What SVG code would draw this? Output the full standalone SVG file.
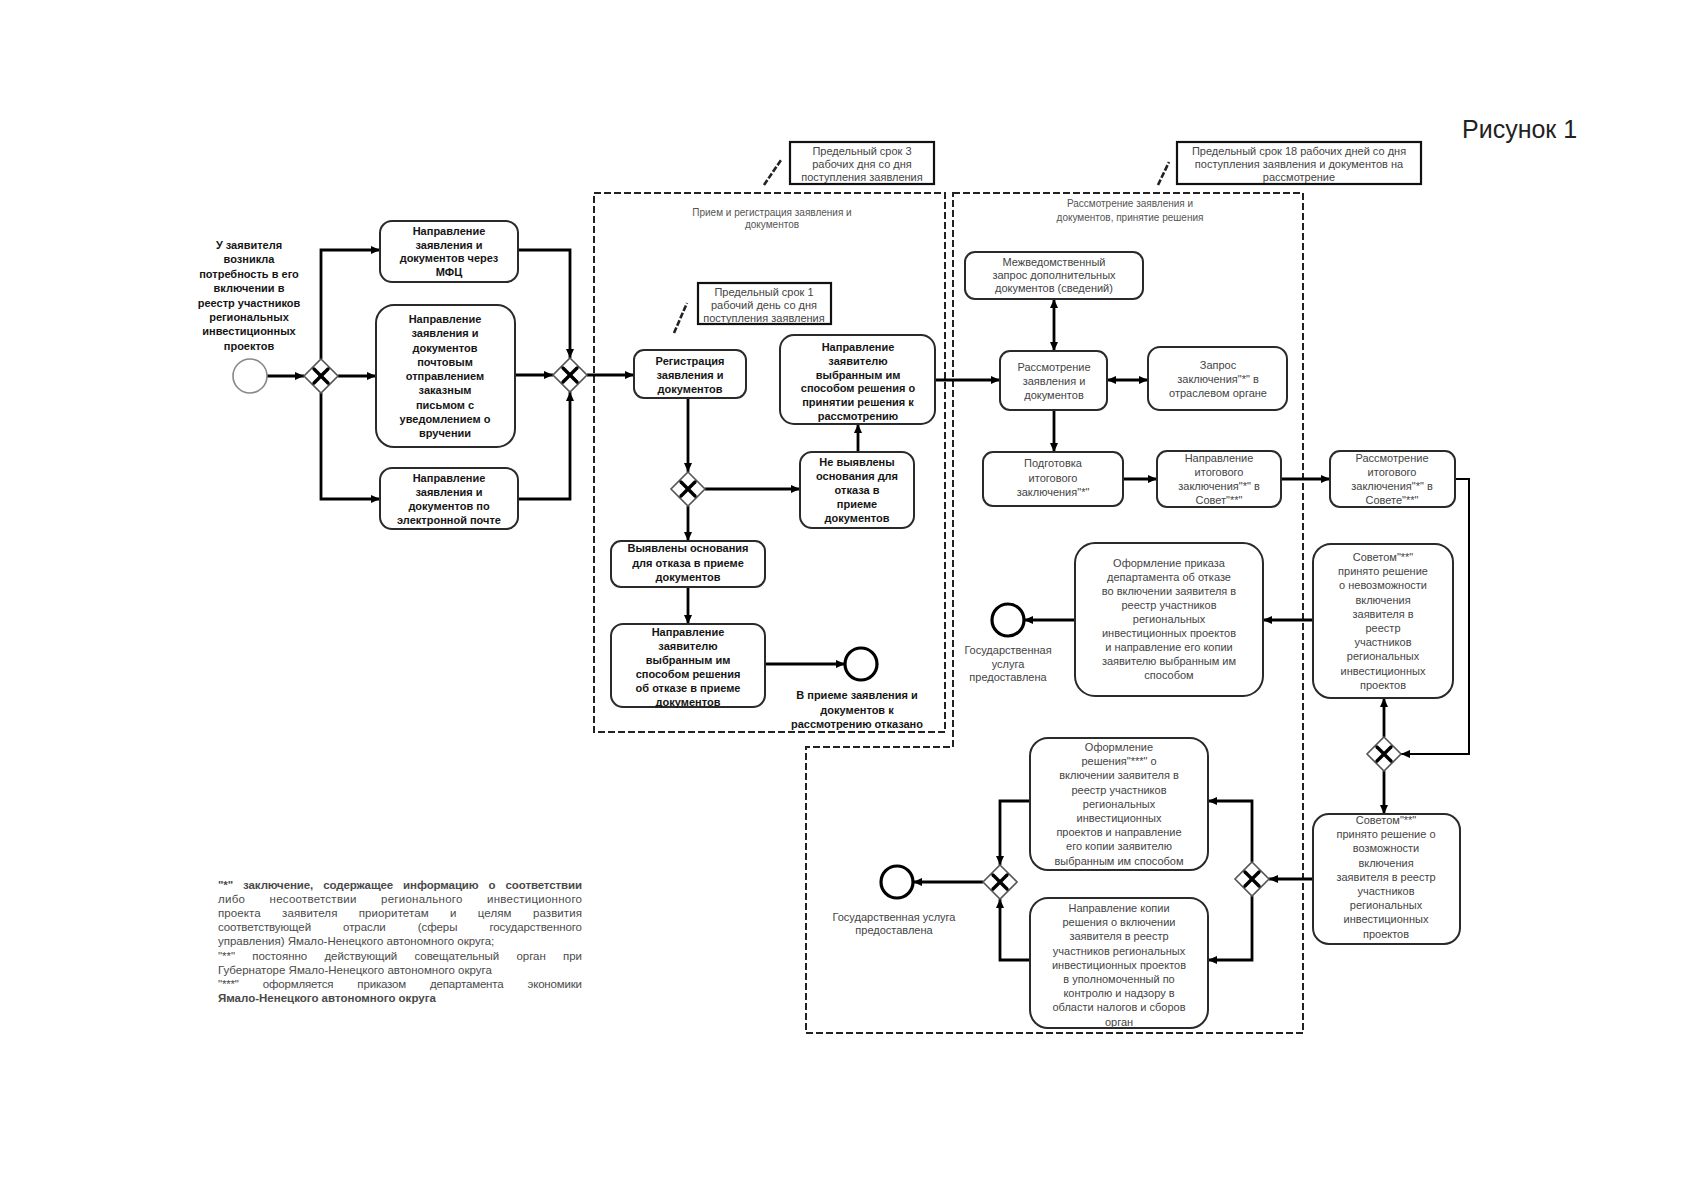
<svg xmlns="http://www.w3.org/2000/svg" xmlns:xlink="http://www.w3.org/1999/xlink" width="1696" height="1200" viewBox="0 0 1696 1200">
<style>
  text { font-family: "Liberation Sans", Arial, sans-serif; font-size: 11px; fill: #444; text-anchor: middle; }
  .b { font-weight: bold; fill: #151515; }
  .lt { font-size: 10px; fill: #555; }
  .fn { font-size: 11.5px; text-anchor: start; fill: #4a4a4a; }
  .fig { font-size: 25px; fill: #222; text-anchor: start; }
  .box { fill: #fff; stroke: #2a2a2a; stroke-width: 2; }
  .ann { fill: #fff; stroke: #111; stroke-width: 2.2; }
  .lane { fill: none; stroke: #222; stroke-width: 2; stroke-dasharray: 7 3; }
  .assoc { stroke: #222; stroke-width: 2.6; stroke-dasharray: 6 2; fill: none; }
  .flow { fill: none; stroke: #000; stroke-width: 2.8; marker-end: url(#arr); }
  .both { marker-start: url(#arrs); }
  .start { fill: #fff; stroke: #888; stroke-width: 1.6; }
  .end { fill: #fff; stroke: #000; stroke-width: 3.2; }
  .gwd { fill: #fff; stroke: #555; stroke-width: 1.6; }
  .gwx { stroke: #000; stroke-width: 3.4; stroke-linecap: round; }
</style>
<defs>
  <marker id="arr" markerUnits="userSpaceOnUse" markerWidth="10" markerHeight="10" refX="9" refY="4" orient="auto">
    <path d="M0,0 L9,4 L0,8 z" fill="#000"/>
  </marker>
  <marker id="arrs" markerUnits="userSpaceOnUse" markerWidth="10" markerHeight="10" refX="9" refY="4" orient="auto-start-reverse">
    <path d="M0,0 L9,4 L0,8 z" fill="#000"/>
  </marker>
  <g id="gw">
    <polygon class="gwd" points="0,-17 17,0 0,17 -17,0"/>
    <line class="gwx" x1="-7" y1="-7" x2="7" y2="7"/>
    <line class="gwx" x1="-7" y1="7" x2="7" y2="-7"/>
  </g>
</defs>
<rect width="1696" height="1200" fill="#fff"/>

<text class="fig" x="1462" y="138">Рисунок 1</text>

<!-- Lanes -->
<g id="lane1">
  <rect class="lane" x="594" y="193" width="351" height="539"/>
  <text class="lt" x="772"><tspan x="772" y="216">Прием и регистрация заявления и</tspan><tspan x="772" y="228">документов</tspan></text>
</g>
<g id="lane2">
  <path class="lane" d="M953,193 H1303 V1033 H806 V747 H953 Z"/>
  <text class="lt" x="1130"><tspan x="1130" y="207">Рассмотрение заявления и</tspan><tspan x="1130" y="221">документов, принятие решения</tspan></text>
</g>

<!-- Annotations -->
<g id="ann1">
  <rect class="ann" x="790" y="142" width="144" height="42"/>
  <line class="assoc" x1="764" y1="185" x2="781" y2="160"/>
  <text><tspan x="862" y="155">Предельный срок 3</tspan><tspan x="862" y="168">рабочих дня со дня</tspan><tspan x="862" y="181">поступления заявления</tspan></text>
</g>
<g id="ann2">
  <rect class="ann" x="698" y="283" width="133" height="41"/>
  <line class="assoc" x1="674" y1="333" x2="687" y2="303"/>
  <text><tspan x="764" y="296">Предельный срок 1</tspan><tspan x="764" y="309">рабочий день со дня</tspan><tspan x="764" y="322">поступления заявления</tspan></text>
</g>
<g id="ann3">
  <rect class="ann" x="1177" y="142" width="244" height="42"/>
  <line class="assoc" x1="1158" y1="185" x2="1169" y2="162"/>
  <text><tspan x="1299" y="155">Предельный срок 18 рабочих дней со дня</tspan><tspan x="1299" y="168">поступления заявления и документов на</tspan><tspan x="1299" y="181">рассмотрение</tspan></text>
</g>

<!-- Connectors -->
<g id="connectors">
  <path class="flow" d="M267,376 H304"/>
  <path class="flow" d="M321,359 V250 H380"/>
  <path class="flow" d="M338,376 H376"/>
  <path class="flow" d="M321,393 V499 H380"/>
  <path class="flow" d="M518,250 H570 V358"/>
  <path class="flow" d="M515,375 H553"/>
  <path class="flow" d="M518,499 H570 V392"/>
  <path class="flow" d="M587,375 H634"/>
  <path class="flow" d="M688,398 V472"/>
  <path class="flow" d="M705,489 H800"/>
  <path class="flow" d="M858,452 V424"/>
  <path class="flow" d="M688,506 V541"/>
  <path class="flow" d="M688,587 V624"/>
  <path class="flow" d="M765,664 H845"/>
  <path class="flow" d="M935,380 H1000"/>
  <path class="flow both" d="M1054,351 V299"/>
  <path class="flow both" d="M1107,380 H1148"/>
  <path class="flow" d="M1054,410 V452"/>
  <path class="flow" d="M1123,479 H1157"/>
  <path class="flow" d="M1281,479 H1330"/>
  <path class="flow" style="stroke-width:2" d="M1455,479 H1469 V754 H1401"/>
  <path class="flow" d="M1384,737 V698"/>
  <path class="flow" d="M1384,771 V814"/>
  <path class="flow" d="M1313,620 H1263"/>
  <path class="flow" d="M1075,620 H1024"/>
  <path class="flow" d="M1313,879 H1269"/>
  <path class="flow" d="M1252,862 V801 H1208"/>
  <path class="flow" d="M1252,896 V960 H1208"/>
  <path class="flow" d="M1030,801 H1000 V865"/>
  <path class="flow" d="M1030,960 H1000 V899"/>
  <path class="flow" d="M983,882 H913"/>
</g>

<!-- Start -->
<g id="start">
  <text class="b"><tspan x="249" y="249">У заявителя</tspan><tspan x="249" y="263.4">возникла</tspan><tspan x="249" y="277.8">потребность в его</tspan><tspan x="249" y="292.2">включении в</tspan><tspan x="249" y="306.6">реестр участников</tspan><tspan x="249" y="321">региональных</tspan><tspan x="249" y="335.4">инвестиционных</tspan><tspan x="249" y="349.8">проектов</tspan></text>
  <circle class="start" cx="250" cy="376" r="17"/>
</g>
<g id="gw1"><use xlink:href="#gw" href="#gw" x="321" y="376"/></g>

<g id="box-mfc">
  <rect class="box" x="380" y="221" width="138" height="61" rx="12"/>
  <text class="b"><tspan x="449" y="235">Направление</tspan><tspan x="449" y="248.7">заявления и</tspan><tspan x="449" y="262.4">документов через</tspan><tspan x="449" y="276.1">МФЦ</tspan></text>
</g>
<g id="box-post">
  <rect class="box" x="376" y="305" width="139" height="142" rx="18"/>
  <text class="b"><tspan x="445" y="323">Направление</tspan><tspan x="445" y="337.2">заявления и</tspan><tspan x="445" y="351.5">документов</tspan><tspan x="445" y="365.7">почтовым</tspan><tspan x="445" y="380">отправлением</tspan><tspan x="445" y="394.2">заказным</tspan><tspan x="445" y="408.5">письмом с</tspan><tspan x="445" y="422.7">уведомлением о</tspan><tspan x="445" y="437">вручении</tspan></text>
</g>
<g id="box-email">
  <rect class="box" x="380" y="468" width="138" height="61" rx="12"/>
  <text class="b"><tspan x="449" y="482">Направление</tspan><tspan x="449" y="496">заявления и</tspan><tspan x="449" y="510">документов по</tspan><tspan x="449" y="524">электронной почте</tspan></text>
</g>
<g id="gw2"><use xlink:href="#gw" href="#gw" x="570" y="375"/></g>

<!-- Lane 1 nodes -->
<g id="box-reg">
  <rect class="box" x="634" y="350" width="112" height="48" rx="10"/>
  <text class="b"><tspan x="690" y="365">Регистрация</tspan><tspan x="690" y="379">заявления и</tspan><tspan x="690" y="393">документов</tspan></text>
</g>
<g id="box-accept">
  <rect class="box" x="780" y="335" width="155" height="89" rx="14"/>
  <text class="b"><tspan x="858" y="351">Направление</tspan><tspan x="858" y="364.8">заявителю</tspan><tspan x="858" y="378.6">выбранным им</tspan><tspan x="858" y="392.4">способом решения о</tspan><tspan x="858" y="406.2">принятии решения к</tspan><tspan x="858" y="420">рассмотрению</tspan></text>
</g>
<g id="gw3"><use xlink:href="#gw" href="#gw" x="688" y="489"/></g>
<g id="box-noreason">
  <rect class="box" x="800" y="452" width="114" height="76" rx="12"/>
  <text class="b"><tspan x="857" y="466">Не выявлены</tspan><tspan x="857" y="480">основания для</tspan><tspan x="857" y="494">отказа в</tspan><tspan x="857" y="508">приеме</tspan><tspan x="857" y="522">документов</tspan></text>
</g>
<g id="box-reason">
  <rect class="box" x="611" y="541" width="154" height="46" rx="10"/>
  <text class="b"><tspan x="688" y="552">Выявлены основания</tspan><tspan x="688" y="566.5">для отказа в приеме</tspan><tspan x="688" y="581">документов</tspan></text>
</g>
<g id="box-refuse">
  <rect class="box" x="611" y="624" width="154" height="83" rx="12"/>
  <text class="b"><tspan x="688" y="636">Направление</tspan><tspan x="688" y="650">заявителю</tspan><tspan x="688" y="664">выбранным им</tspan><tspan x="688" y="678">способом решения</tspan><tspan x="688" y="692">об отказе в приеме</tspan><tspan x="688" y="706">документов</tspan></text>
</g>
<g id="end-refused">
  <circle class="end" cx="861" cy="664" r="16"/>
  <text class="b"><tspan x="857" y="699">В приеме заявления и</tspan><tspan x="857" y="713.5">документов к</tspan><tspan x="857" y="728">рассмотрению отказано</tspan></text>
</g>

<!-- Lane 2 nodes -->
<g id="box-mezhved">
  <rect class="box" x="965" y="252" width="178" height="47" rx="10"/>
  <text><tspan x="1054" y="266">Межведомственный</tspan><tspan x="1054" y="279">запрос дополнительных</tspan><tspan x="1054" y="292">документов (сведений)</tspan></text>
</g>
<g id="box-review">
  <rect class="box" x="1000" y="351" width="107" height="59" rx="10"/>
  <text><tspan x="1054" y="371">Рассмотрение</tspan><tspan x="1054" y="385">заявления и</tspan><tspan x="1054" y="399">документов</tspan></text>
</g>
<g id="box-request">
  <rect class="box" x="1148" y="347" width="139" height="63" rx="12"/>
  <text><tspan x="1218" y="369">Запрос</tspan><tspan x="1218" y="383">заключения"*" в</tspan><tspan x="1218" y="397">отраслевом органе</tspan></text>
</g>
<g id="box-prep">
  <rect class="box" x="983" y="452" width="140" height="54" rx="10"/>
  <text><tspan x="1053" y="467">Подготовка</tspan><tspan x="1053" y="481.5">итогового</tspan><tspan x="1053" y="496">заключения"*"</tspan></text>
</g>
<g id="box-send">
  <rect class="box" x="1157" y="451" width="124" height="56" rx="10"/>
  <text><tspan x="1219" y="462">Направление</tspan><tspan x="1219" y="476">итогового</tspan><tspan x="1219" y="490">заключения"*" в</tspan><tspan x="1219" y="504">Совет"**"</tspan></text>
</g>
<g id="box-council">
  <rect class="box" x="1330" y="451" width="125" height="56" rx="10"/>
  <text><tspan x="1392" y="462">Рассмотрение</tspan><tspan x="1392" y="476">итогового</tspan><tspan x="1392" y="490">заключения"*" в</tspan><tspan x="1392" y="504">Совете"**"</tspan></text>
</g>
<g id="gw4"><use xlink:href="#gw" href="#gw" x="1384" y="754"/></g>
<g id="box-neg">
  <rect class="box" x="1313" y="544" width="140" height="154" rx="18"/>
  <text><tspan x="1383" y="561">Советом"**"</tspan><tspan x="1383" y="575.2">принято решение</tspan><tspan x="1383" y="589.4">о невозможности</tspan><tspan x="1383" y="603.6">включения</tspan><tspan x="1383" y="617.8">заявителя в</tspan><tspan x="1383" y="632">реестр</tspan><tspan x="1383" y="646.2">участников</tspan><tspan x="1383" y="660.4">региональных</tspan><tspan x="1383" y="674.6">инвестиционных</tspan><tspan x="1383" y="688.8">проектов</tspan></text>
</g>
<g id="box-order-refuse">
  <rect class="box" x="1075" y="543" width="188" height="153" rx="20"/>
  <text><tspan x="1169" y="567">Оформление приказа</tspan><tspan x="1169" y="581">департамента об отказе</tspan><tspan x="1169" y="595">во включении заявителя в</tspan><tspan x="1169" y="609">реестр участников</tspan><tspan x="1169" y="623">региональных</tspan><tspan x="1169" y="637">инвестиционных проектов</tspan><tspan x="1169" y="651">и направление его копии</tspan><tspan x="1169" y="665">заявителю выбранным им</tspan><tspan x="1169" y="679">способом</tspan></text>
</g>
<g id="end-done1">
  <circle class="end" cx="1008" cy="620" r="16"/>
  <text><tspan x="1008" y="654">Государственная</tspan><tspan x="1008" y="667.5">услуга</tspan><tspan x="1008" y="681">предоставлена</tspan></text>
</g>
<g id="box-pos">
  <rect class="box" x="1313" y="814" width="147" height="130" rx="16"/>
  <text><tspan x="1386" y="824">Советом"**"</tspan><tspan x="1386" y="838.2">принято решение о</tspan><tspan x="1386" y="852.4">возможности</tspan><tspan x="1386" y="866.6">включения</tspan><tspan x="1386" y="880.8">заявителя в реестр</tspan><tspan x="1386" y="895">участников</tspan><tspan x="1386" y="909.2">региональных</tspan><tspan x="1386" y="923.4">инвестиционных</tspan><tspan x="1386" y="937.6">проектов</tspan></text>
</g>
<g id="gw5"><use xlink:href="#gw" href="#gw" x="1252" y="879"/></g>
<g id="box-decision">
  <rect class="box" x="1030" y="738" width="178" height="132" rx="18"/>
  <text><tspan x="1119" y="751">Оформление</tspan><tspan x="1119" y="765.2">решения"***" о</tspan><tspan x="1119" y="779.4">включении заявителя в</tspan><tspan x="1119" y="793.6">реестр участников</tspan><tspan x="1119" y="807.8">региональных</tspan><tspan x="1119" y="822">инвестиционных</tspan><tspan x="1119" y="836.2">проектов и направление</tspan><tspan x="1119" y="850.4">его копии заявителю</tspan><tspan x="1119" y="864.6">выбранным им способом</tspan></text>
</g>
<g id="box-tax">
  <rect class="box" x="1030" y="898" width="178" height="130" rx="18"/>
  <text><tspan x="1119" y="912">Направление копии</tspan><tspan x="1119" y="926.2">решения о включении</tspan><tspan x="1119" y="940.4">заявителя в реестр</tspan><tspan x="1119" y="954.6">участников региональных</tspan><tspan x="1119" y="968.8">инвестиционных проектов</tspan><tspan x="1119" y="983">в уполномоченный по</tspan><tspan x="1119" y="997.2">контролю и надзору в</tspan><tspan x="1119" y="1011.4">области налогов и сборов</tspan><tspan x="1119" y="1025.6">орган</tspan></text>
</g>
<g id="gw6"><use xlink:href="#gw" href="#gw" x="1000" y="882"/></g>
<g id="end-done2">
  <circle class="end" cx="897" cy="882" r="16"/>
  <text><tspan x="894" y="921">Государственная услуга</tspan><tspan x="894" y="934">предоставлена</tspan></text>
</g>

<!-- Footnote -->
<g id="footnote">
  <text class="fn b" x="218" y="889" word-spacing="7" textLength="364" lengthAdjust="spacing">"*" заключение, содержащее информацию о соответствии</text>
  <text class="fn" x="218" y="903" word-spacing="21" textLength="364" lengthAdjust="spacing">либо несоответствии регионального инвестиционного</text>
  <text class="fn" x="218" y="917" word-spacing="18" textLength="364" lengthAdjust="spacing">проекта заявителя приоритетам и целям развития</text>
  <text class="fn" x="218" y="931" word-spacing="29" textLength="364" lengthAdjust="spacing">соответствующей отрасли (сферы государственного</text>
  <text class="fn" x="218" y="945">управления) Ямало-Ненецкого автономного округа;</text>
  <text class="fn" x="218" y="960" word-spacing="14" textLength="364" lengthAdjust="spacing">"**" постоянно действующий совещательный орган при</text>
  <text class="fn" x="218" y="974">Губернаторе Ямало-Ненецкого автономного округа</text>
  <text class="fn" x="218" y="988" word-spacing="21" textLength="364" lengthAdjust="spacing">"***" оформляется приказом департамента экономики</text>
  <text class="fn b" x="218" y="1002">Ямало-Ненецкого автономного округа</text>
</g>
</svg>
